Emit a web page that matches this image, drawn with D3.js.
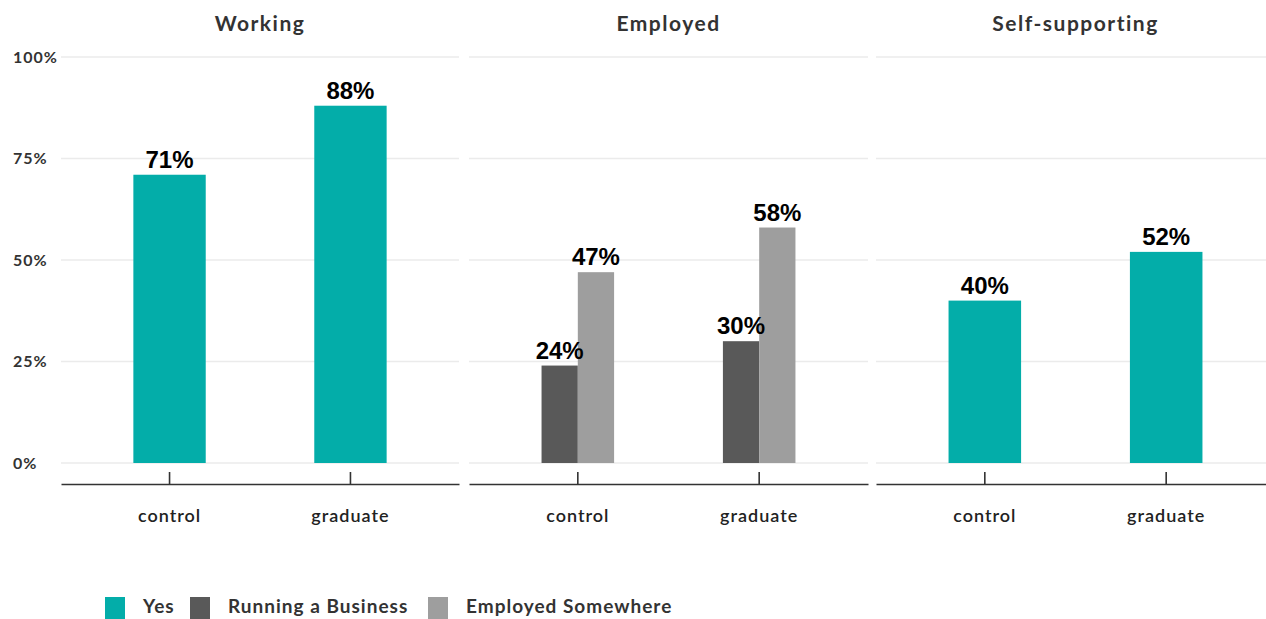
<!DOCTYPE html>
<html lang="en">
<head>
<meta charset="UTF-8">
<title>Working / Employed / Self-supporting</title>
<script src="https://cdnjs.cloudflare.com/ajax/libs/d3/7.8.5/d3.min.js"></script>
<style>
*{margin:0;padding:0}
body{background:#fff;font-family:Lato,'Open Sans',sans-serif}
svg{display:block}
</style>
</head>
<body>
<div id="chart"></div>
<script>
// data
const groups = ["control", "graduate"];
const panels = ["Working", "Employed", "Self-supporting"];
const seriesNames = ["Yes", "Running a Business", "Employed Somewhere"];
const working = [{g:"control", s:"Yes", v:71}, {g:"graduate", s:"Yes", v:88}];
const employed = [
  {g:"control", s:"Running a Business", v:24}, {g:"control", s:"Employed Somewhere", v:47},
  {g:"graduate", s:"Running a Business", v:30}, {g:"graduate", s:"Employed Somewhere", v:58}
];
const selfSupporting = [{g:"control", s:"Yes", v:40}, {g:"graduate", s:"Yes", v:52}];
const yTicks = [0, 25, 50, 75, 100];

const W = 1266, H = 619;
const color = d3.scaleOrdinal().domain(seriesNames).range(["#03ADA9", "#595959", "#9E9E9E"]);
const y = d3.scaleLinear().domain([0, 100]).range([463, 57]);
const panelX = [[61, 459], [469, 868], [876, 1275]];
const panelData = [working, employed, selfSupporting];

const svg = d3.select("#chart").append("svg").attr("width", W).attr("height", H);

// y tick labels, left aligned
svg.append("g").selectAll("text").data(yTicks).join("text")
  .attr("x", 13).attr("y", d => y(d)).attr("dy", "0.35em")
  .attr("font-size", 16).attr("font-weight", 700).attr("letter-spacing", 1).attr("fill", "#333")
  .text(d => d + "%");

panels.forEach((title, pi) => {
  const [x0, x1] = panelX[pi];
  const data = panelData[pi];
  const x = d3.scaleBand().domain(groups).range([x0, x1]).paddingInner(0).paddingOuter(0.1);
  const g = svg.append("g");

  // grid
  g.selectAll("line.grid").data(yTicks).join("line").attr("class", "grid")
    .attr("x1", x0).attr("x2", x1).attr("y1", d => y(d)).attr("y2", d => y(d))
    .attr("stroke", "#ebebeb").attr("stroke-width", 1.4);

  // bars
  const subs = [...new Set(data.map(d => d.s))];
  const barW = x.step() * 0.4;
  const xs = d3.scaleBand().domain(subs).range([0, barW]);
  const bx = d => x(d.g) + x.bandwidth() / 2 - barW / 2 + xs(d.s);
  g.selectAll("rect").data(data).join("rect")
    .attr("x", bx).attr("width", xs.bandwidth())
    .attr("y", d => y(d.v)).attr("height", d => y(0) - y(d.v))
    .attr("fill", d => color(d.s));

  // value labels
  g.selectAll("text.val").data(data).join("text").attr("class", "val")
    .attr("x", d => bx(d) + xs.bandwidth() / 2).attr("y", d => y(d.v) - 7)
    .attr("text-anchor", "middle").attr("font-family", "'Liberation Sans',Arial,sans-serif")
    .attr("font-size", 24).attr("font-weight", 700).attr("fill", "#000")
    .text(d => d.v + "%");

  // x axis
  const ax = g.append("g").attr("transform", "translate(0,484)")
    .call(d3.axisBottom(x).tickSize(-12).tickPadding(0).tickSizeOuter(0));
  ax.select(".domain").attr("stroke", "#333").attr("stroke-width", 1.6);
  ax.selectAll(".tick line").attr("stroke", "#333").attr("stroke-width", 1.6);
  ax.selectAll(".tick text").attr("y", 32).attr("dy", "0.35em")
    .attr("font-size", 18).attr("font-family", "Lato,'Open Sans',sans-serif").attr("font-weight", 600)
    .attr("letter-spacing", 1).attr("fill", "#222");

  // facet title
  g.append("text").attr("x", (x0 + x1) / 2).attr("y", 31).attr("text-anchor", "middle")
    .attr("font-size", 21).attr("font-weight", 700).attr("letter-spacing", 1.5).attr("fill", "#333").text(title);
});

// legend (sits at the bottom edge like the reference, text kept inside)
const legX = [105, 190, 428];
const leg = svg.append("g").selectAll("g").data(seriesNames).join("g")
  .attr("transform", (d, i) => `translate(${legX[i]},597)`);
leg.append("rect").attr("width", 20).attr("height", 22).attr("fill", d => color(d));
leg.append("text").attr("x", 38).attr("y", 16)
  .attr("font-size", 19).attr("font-weight", 700).attr("letter-spacing", 1).attr("fill", "#333").text(d => d);
</script>
</body>
</html>
